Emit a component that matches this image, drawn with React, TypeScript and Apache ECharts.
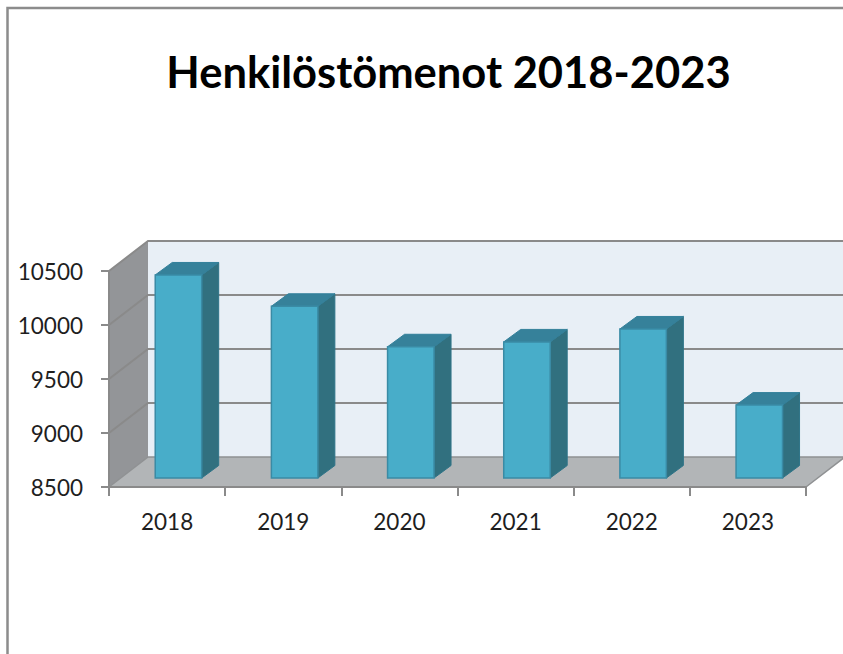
import React, { useEffect, useRef } from "react";
import * as echarts from "echarts";

const categories = ["2018", "2019", "2020", "2021", "2022", "2023"];
const spending = [10380, 10090, 9715, 9760, 9880, 9175];
const axisTicks = [8500, 9000, 9500, 10000, 10500];
const axisMin = 8500;
const axisMax = 10500;
const FONT = "Lato, 'Open Sans', sans-serif";
const DEPTH_X = 39;
const DEPTH_Y = -30;
const GRID_COLOR = "#8a8a8a";

export default function App() {
  const ref = useRef<HTMLDivElement>(null);
  useEffect(() => {
    const chart = echarts.init(ref.current!, null, { renderer: "svg" });
    const walls = (_p: any, api: any) => {
      const band = api.size([1, 0])[0];
      const left = api.coord([0, axisMin])[0] - band / 2;
      const right = api.coord([categories.length - 1, axisMin])[0] + band / 2;
      const bottom = api.coord([0, axisMin])[1];
      const top = api.coord([0, axisMax])[1];
      return {
        type: "group",
        children: [
          { type: "polygon", shape: { points: [[left + DEPTH_X, top + DEPTH_Y], [right + DEPTH_X, top + DEPTH_Y], [right + DEPTH_X, bottom + DEPTH_Y], [left + DEPTH_X, bottom + DEPTH_Y]] }, style: { fill: "#e8eff6" } },
          { type: "polygon", shape: { points: [[left, top], [left + DEPTH_X, top + DEPTH_Y], [left + DEPTH_X, bottom + DEPTH_Y], [left, bottom]] }, style: { fill: "#939598" } },
          { type: "polygon", shape: { points: [[left, bottom], [left + DEPTH_X, bottom + DEPTH_Y], [right + DEPTH_X, bottom + DEPTH_Y], [right, bottom]] }, style: { fill: "#b2b5b7" } },
        ],
      };
    };
    const gridLines = (_p: any, api: any) => {
      const band = api.size([1, 0])[0];
      const v = api.value(1);
      const left = api.coord([0, v])[0] - band / 2;
      const right = api.coord([categories.length - 1, v])[0] + band / 2;
      const y = api.coord([0, v])[1];
      return {
        type: "polyline",
        shape: { points: [[left, y], [left + DEPTH_X, y + DEPTH_Y], [right + DEPTH_X, y + DEPTH_Y], ...(v === axisMin ? [[right, y]] : [])] },
        style: { stroke: v === axisMin ? "#8f9193" : GRID_COLOR, lineWidth: v === axisMin ? 1.5 : 2, fill: null },
      };
    };
    const bars = (_p: any, api: any) => {
      const i = api.value(0);
      const band = api.size([1, 0])[0];
      const cx = api.coord([i, axisMin])[0] + band * 0.098;
      const w = band * 0.4;
      const lift = 9;
      const base = api.coord([i, axisMin])[1] - lift;
      const top = api.coord([i, api.value(1)])[1] - lift;
      const x0 = cx - w / 2;
      const x1 = cx + w / 2;
      const dx = 17;
      const dy = -12.5;
      const edge = { stroke: "#3a8ba5", lineWidth: 1.5 };
      return {
        type: "group",
        children: [
          { type: "polygon", shape: { points: [[x1, top], [x1 + dx, top + dy], [x1 + dx, base + dy], [x1, base]] }, style: { fill: "#31707f", stroke: "#2f7488", lineWidth: 1 } },
          { type: "polygon", shape: { points: [[x0, top], [x0 + dx, top + dy], [x1 + dx, top + dy], [x1, top]] }, style: { fill: "#36819a", stroke: "#33809a", lineWidth: 1 } },
          { type: "rect", shape: { x: x0, y: top, width: w, height: base - top }, style: { fill: "#48adc9", ...edge } },
        ],
      };
    };
    chart.setOption({
      animation: false,
      backgroundColor: "#ffffff",
      title: {
        text: "Henkilöstömenot 2018-2023",
        left: 443.5,
        top: 66,
        textAlign: "center",
        textVerticalAlign: "middle",
        textStyle: { fontFamily: FONT, fontSize: 43.5, fontWeight: "bold", color: "#000000" },
      },
      grid: { left: 109, top: 271, width: 697, height: 216 },
      xAxis: {
        type: "category",
        data: categories,
        z: 5,
        axisLine: { lineStyle: { color: GRID_COLOR, width: 2 } },
        axisTick: { show: true, length: 9, lineStyle: { color: GRID_COLOR, width: 2 } },
        axisLabel: { fontFamily: FONT, fontSize: 22.5, color: "#1e1e1e", margin: 23 },
      },
      yAxis: {
        type: "value",
        min: axisMin,
        max: axisMax,
        interval: 500,
        z: 5,
        splitLine: { show: false },
        axisLine: { show: true, lineStyle: { color: GRID_COLOR, width: 2 } },
        axisTick: { show: true, length: 8, lineStyle: { color: GRID_COLOR, width: 2 } },
        axisLabel: { fontFamily: FONT, fontSize: 22.5, color: "#1e1e1e", margin: 26, formatter: (v: number) => String(v) },
      },
      series: [
        { type: "custom", name: "walls", renderItem: walls, data: [[0, axisMin]], encode: { x: 0, y: 1 }, silent: true },
        { type: "custom", name: "grid", renderItem: gridLines, data: axisTicks.map((t) => [0, t]), encode: { x: 0, y: 1 }, silent: true },
        { type: "custom", name: "Henkilöstömenot", renderItem: bars, data: spending.map((v, i) => [i, v]), encode: { x: 0, y: 1 } },
      ],
      graphic: [
        {
          type: "polyline",
          z: 10,
          shape: { points: [[7.5, 654], [7.5, 8], [843, 8]] },
          style: { stroke: "#8c8c8c", lineWidth: 2.5, fill: null },
        },
      ],
    });
    return () => chart.dispose();
  }, []);
  return <div ref={ref} style={{ position: "absolute", left: 0, top: 0, width: 843, height: 654 }} />;
}
